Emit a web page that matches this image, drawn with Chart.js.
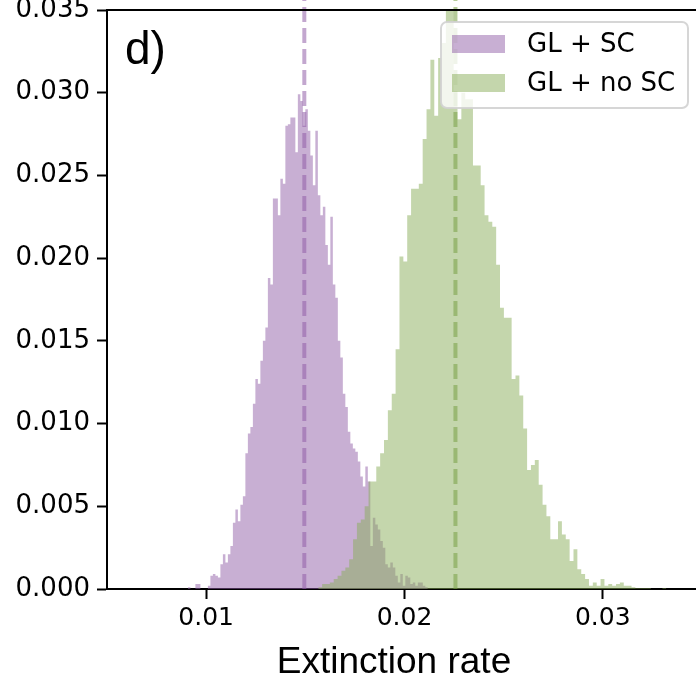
<!DOCTYPE html>
<html>
<head>
<meta charset="utf-8">
<script src="https://cdn.jsdelivr.net/npm/chart.js@4.4.0/dist/chart.umd.min.js"></script>
<style>
    body { margin: 0; background: #fff; }
    #myChart { display: block; }
</style>
</head>
<body>
<canvas id="myChart" width="696" height="683"></canvas>
<script>
// series names (legend)
const seriesNames = ['GL + SC', 'GL + no SC']

// histogram bins: first left edge + bin width, one density value per bin
const purpleStart = 0.00908
const purpleWidth = 0.000126
const purpleDensity = [
    0.0001, 0, 0, 0.0003, 0.0003, 0, 0, 0,
    0.0002, 0.0008, 0.0009, 0.0008, 0.0007, 0.0015, 0.0021, 0.0016, 0.0021, 0.0026,
    0.0040, 0.0048, 0.0041, 0.0051, 0.0056, 0.0082, 0.0094, 0.0098, 0.0112, 0.0127,
    0.0124, 0.0138, 0.0150, 0.0158, 0.0188, 0.0184, 0.0236, 0.0236, 0.0226, 0.0248,
    0.0245, 0.0280, 0.0281, 0.0285, 0.0285, 0.0264, 0.0299, 0.0295, 0.0280, 0.0290,
    0.0277, 0.0262, 0.0244, 0.0277, 0.0238, 0.0226, 0.0231, 0.0208, 0.0196, 0.0225,
    0.0184, 0.0176, 0.0150, 0.0140, 0.0118, 0.0110, 0.0095, 0.0088, 0.0085, 0.0083,
    0.0077, 0.0068, 0.0062, 0.0074, 0.0065, 0.0026, 0.0043, 0.0039, 0.0036, 0.0029,
    0.0025, 0.0015, 0.0013, 0.0016, 0.0013, 0.0008, 0.0004, 0.0009, 0.0002, 0.0008,
    0.0007, 0.0003, 0.0004, 0.0002, 0.0004, 0.0004, 0.0002, 0.0001
]

const greenStart = 0.015653
const greenWidth = 0.000195
const greenDensity = [
    0.0001, 0.0003, 0.0003, 0.0004, 0.0006, 0.0008, 0.0011, 0.0013, 0.0018, 0.0030,
    0.0040, 0.0042, 0.0050, 0.0065, 0.0065, 0.0074, 0.0082, 0.0090, 0.0108, 0.0118,
    0.0145,
    0.0201, 0.0198, 0.0226, 0.0242, 0.0242, 0.0245, 0.0272, 0.0290, 0.0320, 0.0286,
    0.0321, 0.0330, 0.0362, 0.0350, 0.0300, 0.0284, 0.0300, 0.0296, 0.0296, 0.0256,
    0.0256, 0.0244, 0.0226, 0.0222, 0.0219, 0.0196, 0.0170, 0.0164, 0.0164,
    0.0127, 0.0129, 0.0117, 0.0097, 0.0072, 0.0075, 0.0078, 0.0063, 0.0051, 0.0044,
    0.0030, 0.0030, 0.0041, 0.0033, 0.0030, 0.0017, 0.0024, 0.0012, 0.0009, 0.0006,
    0.0002, 0.0004, 0.0002, 0.0006, 0.0002, 0.0003, 0.0002, 0.0003, 0.0004, 0.0002,
    0.0002, 0.0001, 0.00005, 0.00005, 0.00005, 0.00005, 0, 0, 0, 0.00005
]

// mean of each distribution (dashed lines)
const meanValues = [0.01495, 0.02257]

// axes
const xTicks = [0.01, 0.02, 0.03]
const yTicks = [0, 0.005, 0.010, 0.015, 0.020, 0.025, 0.030, 0.035]
const xLimits = [0.005, 0.0347]
const yLimits = [0, 0.035]
const xTitle = 'Extinction rate'
const panelLabel = 'd)'

const purpleFill = 'rgba(145, 95, 168, 0.5)'
const greenFill = 'rgba(137, 173, 89, 0.5)'

function histPoints(start, width, values) {
    let pts = []
    for (let i = 0; i < values.length; i++) {
        pts.push({ x: start + i * width, y: values[i] })
    }
    // close the last bin
    pts.push({ x: start + values.length * width, y: 0 })
    return pts
}

function meanLine(m) {
    return [{ x: m, y: 0 }, { x: m, y: 0.0366 }]
}

// top spine, axis title, panel letter and the boxed legend
const extras = {
    id: 'extras',
    afterDatasetsDraw(chart) {
        const ctx = chart.ctx
        const a = chart.chartArea
        ctx.save()
        ctx.strokeStyle = '#000'
        ctx.lineWidth = 2
        ctx.beginPath()
        ctx.moveTo(a.left - 1, a.top)
        ctx.lineTo(a.right, a.top)
        ctx.stroke()
        ctx.restore()
    },
    afterDraw(chart) {
        const ctx = chart.ctx
        ctx.save()
        ctx.fillStyle = '#000'
        ctx.font = '46px "Liberation Sans", Arial, sans-serif'
        ctx.textBaseline = 'alphabetic'
        ctx.textAlign = 'left'
        ctx.fillText(panelLabel, 125, 64)

        // x axis title (centred a little left of the cropped axes, as in the figure)
        ctx.font = '37px "Liberation Sans", Arial, sans-serif'
        ctx.textAlign = 'center'
        ctx.fillText(xTitle, 394, 673)

        ctx.textAlign = 'left'
        ctx.beginPath()
        ctx.roundRect(441, 22, 247, 86, 6)
        ctx.fillStyle = 'rgba(255, 255, 255, 0.8)'
        ctx.fill()
        ctx.lineWidth = 2
        ctx.strokeStyle = 'rgba(210, 210, 210, 0.9)'
        ctx.stroke()

        const ds = chart.data.datasets
        const rows = [35, 74]
        for (let i = 0; i < 2; i++) {
            ctx.fillStyle = ds[i].backgroundColor
            ctx.fillRect(452, rows[i], 53, 18)
            ctx.fillStyle = '#000'
            ctx.font = '26px "DejaVu Sans", sans-serif'
            ctx.textBaseline = 'middle'
            ctx.fillText(ds[i].label, 527, rows[i] + 10)
        }
        ctx.restore()
    }
}

let ctx = document.getElementById('myChart').getContext('2d')
let myChart = new Chart(ctx, {
    type: 'line',
    data: {
        datasets: [{
            label: seriesNames[0],
            data: histPoints(purpleStart, purpleWidth, purpleDensity),
            stepped: 'before',
            fill: 'origin',
            backgroundColor: purpleFill,
            borderColor: 'rgba(0,0,0,0)',
            borderWidth: 0,
            pointRadius: 0,
            order: 2
        }, {
            label: seriesNames[1],
            data: histPoints(greenStart, greenWidth, greenDensity),
            stepped: 'before',
            fill: 'origin',
            backgroundColor: greenFill,
            borderColor: 'rgba(0,0,0,0)',
            borderWidth: 0,
            pointRadius: 0,
            clip: false,
            order: 1
        }, {
            label: 'mean 1',
            data: meanLine(meanValues[0]),
            borderColor: 'rgba(145, 95, 168, 0.55)',
            borderWidth: 4,
            borderDash: [15, 6],
            pointRadius: 0,
            fill: false,
            clip: false,
            order: 0
        }, {
            label: 'mean 2',
            data: meanLine(meanValues[1]),
            borderColor: 'rgba(120, 160, 70, 0.55)',
            borderWidth: 4,
            borderDash: [15, 6],
            pointRadius: 0,
            fill: false,
            clip: false,
            order: 0
        }]
    },
    options: {
        responsive: false,
        animation: false,
        devicePixelRatio: 1,
        layout: { padding: { top: 10, right: 0, left: 0, bottom: 0 } },
        plugins: {
            legend: { display: false },
            tooltip: { enabled: false }
        },
        scales: {
            x: {
                type: 'linear',
                min: xLimits[0],
                max: xLimits[1],
                afterBuildTicks: s => { s.ticks = xTicks.map(v => ({ value: v })) },
                afterFit: s => { s.height = 94; s.paddingLeft = 0; s.paddingRight = 0 },
                ticks: {
                    color: '#000',
                    padding: 4,
                    maxRotation: 0,
                    font: { family: 'DejaVu Sans', size: 25 },
                    callback: v => v.toFixed(2)
                },
                grid: { display: true, drawOnChartArea: false, tickLength: 10, tickWidth: 2, tickColor: '#000' },
                border: { display: true, color: '#000', width: 2 }
            },
            y: {
                min: yLimits[0],
                max: yLimits[1],
                afterBuildTicks: s => { s.ticks = yTicks.map(v => ({ value: v })) },
                afterFit: s => { s.width = 107; s.paddingTop = 0; s.paddingBottom = 0 },
                ticks: {
                    color: '#000',
                    padding: 7,
                    font: { family: 'DejaVu Sans', size: 26 },
                    callback: v => v.toFixed(3)
                },
                grid: { display: true, drawOnChartArea: false, tickLength: 10, tickWidth: 2, tickColor: '#000' },
                border: { display: true, color: '#000', width: 2 }
            }
        }
    },
    plugins: [extras]
})
</script>
</body>
</html>
